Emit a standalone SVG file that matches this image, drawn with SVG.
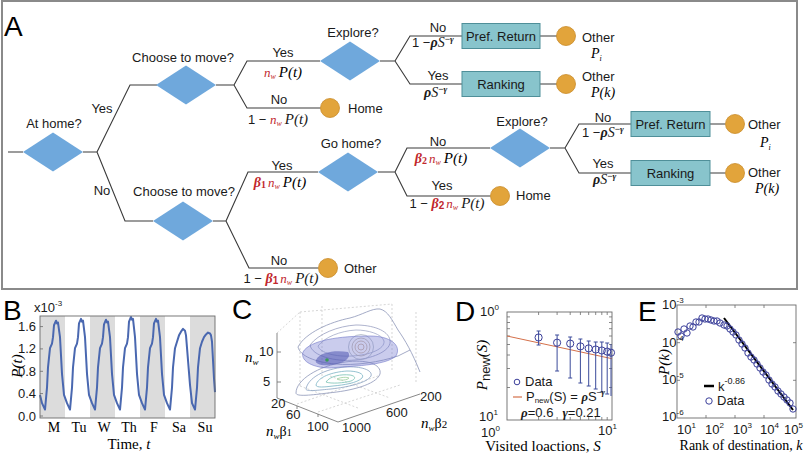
<svg xmlns="http://www.w3.org/2000/svg" width="805" height="460" viewBox="0 0 805 460">
<style>
.t{font-family:"Liberation Sans",Arial,sans-serif;font-size:13px;fill:#1a1a1a}
.it{font-family:"Liberation Serif","Times New Roman",serif;font-style:italic}
.sr{font-family:"Liberation Serif","Times New Roman",serif}
.red{fill:#c1272d}
.b{font-weight:bold}
.pl{font-family:"Liberation Sans",Arial,sans-serif;font-size:28px;fill:#000}
.edge{stroke:#3a3a3a;stroke-width:1.1;fill:none}
.dia{fill:#6fa8dc}
.term{fill:#e2a43b;stroke:#c98c2a;stroke-width:0.8}
.box{fill:#88c4cc;stroke:#4f8f99;stroke-width:1}
.frame{fill:none;stroke:#6a6a6a;stroke-width:0.9}
.tk{stroke:#6a6a6a;stroke-width:0.8;fill:none}
.dg{stroke:#c4c4c4;stroke-width:0.7;stroke-dasharray:2,2;fill:none}
.ct{fill:none;stroke-width:0.8}
.mk{fill:none;stroke:#3b3f9a;stroke-width:1}
</style>
<defs>
<polygon id="dm" points="-30,0 0,-19.5 30,0 0,19.5" class="dia"/>
</defs>
<rect x="2" y="1" width="795" height="288" fill="#fff" stroke="#8a8a8a" stroke-width="2"/>
<text class="pl" x="4" y="36">A</text>

<g id="connectors">
<path class="edge" d="M8,152H23 M83,152H97 M97,152L130,85H157 M97,152L125,221H153 M216,85H234 M234,85L247,61H320 M234,85L247,108H320.5 M380,61H395 M395,61L410,36H462 M395,61L410,84H462 M540,36H557 M540,84H557 M213,221H226 M226,221L248,172H318 M226,221L249,268H318.5 M378,172H395 M395,172L407,148H490 M395,172L407,196H490.5 M550,148H565 M565,148L579,124H631 M565,148L579,173H631 M710,124H725.5 M710,173H725.5"/>
<text class="t" x="102" y="113" text-anchor="middle">Yes</text>
<text class="t" x="102" y="195" text-anchor="middle">No</text>
<text class="t" x="283" y="57" text-anchor="middle">Yes</text>
<text class="it" x="283" y="77" text-anchor="middle" font-size="15"><tspan class="red" font-size="13">n</tspan><tspan class="red" font-size="8" dy="2">w</tspan><tspan dy="-2" dx="3">P(t)</tspan></text>
<text class="t" x="279" y="104" text-anchor="middle">No</text>
<text class="t" x="278" y="124" text-anchor="middle">1 − <tspan class="it red" font-size="13">n</tspan><tspan class="it red" font-size="8" dy="2">w</tspan><tspan class="it" font-size="15" dy="-2" dx="3">P(t)</tspan></text>
<text class="t" x="438" y="32" text-anchor="middle">No</text>
<text class="t" x="412" y="47">1 −<tspan class="it b" font-size="14">ρ</tspan><tspan class="it" font-size="14">S</tspan><tspan font-size="9" dy="-5">−</tspan><tspan class="it b" font-size="9">γ</tspan></text>
<text class="t" x="438" y="80" text-anchor="middle">Yes</text>
<text class="t" x="424" y="97"><tspan class="it b" font-size="14">ρ</tspan><tspan class="it" font-size="14">S</tspan><tspan font-size="9" dy="-5">−</tspan><tspan class="it b" font-size="9">γ</tspan></text>
<text class="t" x="282" y="170" text-anchor="middle">Yes</text>
<text class="it" x="280" y="187" text-anchor="middle" font-size="15"><tspan class="red b" font-size="14">β</tspan><tspan class="red b" font-size="10" dy="1" font-style="normal">1</tspan><tspan class="red" font-size="13" dy="-1" dx="2">n</tspan><tspan class="red" font-size="8" dy="2">w</tspan><tspan dy="-2" dx="3">P(t)</tspan></text>
<text class="t" x="279" y="265" text-anchor="middle">No</text>
<text class="t" x="281" y="283" text-anchor="middle">1 − <tspan class="it red b" font-size="14">β</tspan><tspan class="red b" font-size="10" dy="1">1</tspan><tspan class="it red" font-size="13" dy="-1" dx="2">n</tspan><tspan class="it red" font-size="8" dy="2">w</tspan><tspan class="it" font-size="15" dy="-2" dx="3">P(t)</tspan></text>
<text class="t" x="438" y="146" text-anchor="middle">No</text>
<text class="it" x="441" y="163" text-anchor="middle" font-size="15"><tspan class="red b" font-size="14">β</tspan><tspan class="red b" font-size="10" dy="1" font-style="normal">2</tspan><tspan class="red" font-size="13" dy="-1" dx="2">n</tspan><tspan class="red" font-size="8" dy="2">w</tspan><tspan dy="-2" dx="3">P(t)</tspan></text>
<text class="t" x="442" y="190" text-anchor="middle">Yes</text>
<text class="t" x="447" y="208" text-anchor="middle">1 − <tspan class="it red b" font-size="14">β</tspan><tspan class="red b" font-size="10" dy="1">2</tspan><tspan class="it red" font-size="13" dy="-1" dx="2">n</tspan><tspan class="it red" font-size="8" dy="2">w</tspan><tspan class="it" font-size="15" dy="-2" dx="3">P(t)</tspan></text>
<text class="t" x="603" y="122" text-anchor="middle">No</text>
<text class="t" x="582" y="137">1 −<tspan class="it b" font-size="14">ρ</tspan><tspan class="it" font-size="14">S</tspan><tspan font-size="9" dy="-5">−</tspan><tspan class="it b" font-size="9">γ</tspan></text>
<text class="t" x="603" y="168" text-anchor="middle">Yes</text>
<text class="t" x="593" y="184"><tspan class="it b" font-size="14">ρ</tspan><tspan class="it" font-size="14">S</tspan><tspan font-size="9" dy="-5">−</tspan><tspan class="it b" font-size="9">γ</tspan></text>
</g>

<g id="n-athome"><use href="#dm" x="53" y="152"/><text class="t" x="54" y="128" text-anchor="middle">At home?</text></g>
<g id="n-move1"><use href="#dm" x="186" y="85"/><text class="t" x="183" y="62" text-anchor="middle">Choose to move?</text></g>
<g id="n-explore1"><use href="#dm" x="350" y="61"/><text class="t" x="353" y="37" text-anchor="middle">Explore?</text></g>
<g id="n-home1"><circle class="term" cx="330" cy="108" r="9.5"/><text class="t" x="348" y="113">Home</text></g>
<g id="n-pref1"><rect class="box" x="462" y="23.5" width="78" height="25"/><text class="t" x="501" y="40.5" text-anchor="middle">Pref. Return</text></g>
<g id="n-rank1"><rect class="box" x="462" y="71.5" width="78" height="25"/><text class="t" x="501" y="88.5" text-anchor="middle">Ranking</text></g>
<g id="n-other1"><circle class="term" cx="566" cy="36" r="9.5"/><text class="t" x="582" y="42">Other</text><text class="it" x="591" y="58" font-size="14">P<tspan font-size="8" dy="3">i</tspan></text></g>
<g id="n-other2"><circle class="term" cx="566" cy="84" r="9.5"/><text class="t" x="582" y="81">Other</text><text class="it" x="591" y="97" font-size="14">P(k)</text></g>
<g id="n-move2"><use href="#dm" x="183" y="221"/><text class="t" x="184" y="196" text-anchor="middle">Choose to move?</text></g>
<g id="n-gohome"><use href="#dm" x="348" y="172"/><text class="t" x="351" y="148" text-anchor="middle">Go home?</text></g>
<g id="n-other3"><circle class="term" cx="328" cy="268" r="9.5"/><text class="t" x="344" y="273">Other</text></g>
<g id="n-home2"><circle class="term" cx="500" cy="196" r="9.5"/><text class="t" x="516" y="200">Home</text></g>
<g id="n-explore2"><use href="#dm" x="520" y="148"/><text class="t" x="522" y="126" text-anchor="middle">Explore?</text></g>
<g id="n-pref2"><rect class="box" x="631" y="111.5" width="79" height="25"/><text class="t" x="670.5" y="128.5" text-anchor="middle">Pref. Return</text></g>
<g id="n-rank2"><rect class="box" x="631" y="160.5" width="79" height="25"/><text class="t" x="670.5" y="177.5" text-anchor="middle">Ranking</text></g>
<g id="n-other4"><circle class="term" cx="735" cy="124" r="9.5"/><text class="t" x="748" y="129">Other</text><text class="it" x="760" y="147" font-size="14">P<tspan font-size="8" dy="3">i</tspan></text></g>
<g id="n-other5"><circle class="term" cx="735" cy="173" r="9.5"/><text class="t" x="748" y="177">Other</text><text class="it" x="755" y="193" font-size="14">P(k)</text></g>

<!-- Panel B -->
<g id="panelB">
<text class="pl" x="3" y="320">B</text>
<rect x="40" y="316" width="25" height="102" fill="#dcdcdc"/>
<rect x="90" y="316" width="25" height="102" fill="#dcdcdc"/>
<rect x="140" y="316" width="25" height="102" fill="#dcdcdc"/>
<rect x="190" y="316" width="25" height="102" fill="#dcdcdc"/>
<g transform="matrix(1 0 0 0.9164 0 25.6)">
<polyline fill="none" stroke="#4a68b0" stroke-width="2" stroke-linejoin="round" vector-effect="non-scaling-stroke" points="40,403 42,412 45,419 47,395 48,373 50,352 52,347 53,340 54,327 56,322 57,325 58,324 60,340 62,380 64,403 67,412 70,419 72,395 73,373 75,352 77,347 78,340 79,325 81,320 82,323 83,322 85,340 87,380 89,403 92,412 95,419 97,395 98,373 100,352 102,347 103,340 104,326 106,321 107,324 108,323 110,340 112,380 114,403 117,412 120,419 122,395 123,373 125,352 127,347 128,340 129,323 131,318 132,321 133,320 135,340 137,380 139,403 142,412 145,419 147,395 148,373 150,352 152,347 153,340 154,325 156,320 157,323 158,322 160,340 162,380 164,403 167,412 170,419 172,395 173,373 175,352 177,345 179,338 181,334 183,331 185,333 186,338 188,365 190,392 192,412 195,419 197,395 198,373 200,352 202,345 204,340 206,337 208,335 210,336 211,338 212,345 213,365 214,385 215,400"/>
</g>
<rect class="frame" x="40" y="316" width="175" height="102"/>
<path class="tk" d="M40,326.6h3M40,348.9h3M40,371.3h3M40,393.6h3M40,416h3"/>
<text class="t" x="36" y="331" text-anchor="end">1.6</text>
<text class="t" x="36" y="353.4" text-anchor="end">1.2</text>
<text class="t" x="36" y="375.8" text-anchor="end">0.8</text>
<text class="t" x="36" y="398.1" text-anchor="end">0.4</text>
<text class="t" x="36" y="420.5" text-anchor="end">0.0</text>
<text class="t" x="34" y="312" font-size="12">x10<tspan font-size="8" dy="-6">-3</tspan></text>
<text class="it" font-size="15" transform="translate(22,366) rotate(-90)" text-anchor="middle">P(t)</text>
<g class="sr" font-size="14" text-anchor="middle">
<text x="54" y="432">M</text><text x="79" y="432">Tu</text><text x="104" y="432">W</text><text x="129" y="432">Th</text><text x="154" y="432">F</text><text x="179" y="432">Sa</text><text x="205" y="432">Su</text>
</g>
<text class="sr" font-size="15" x="129" y="449" text-anchor="middle">Time, <tspan class="it">t</tspan></text>
</g>

<!-- Panel C -->
<g id="panelC">
<text class="pl" x="232" y="319">C</text>
<path class="dg" d="M300,312V387 M322,306V379 M392,304V371 M416,312V384 M297,404L378,376 M318,412L400,385 M300,386L358,408 M330,376L390,398 M277,333L300,312 M300,312L392,304"/>
<path class="tk" d="M277,333V398L338,422L420,394 M277,352h4 M277,382h4 M297,406l0,3 M318,414l0,3"/>
<path class="ct" stroke="#8d95b8" d="M296,393C296,380 318,366 345,362C366,359 382,364 380,374C376,385 350,391 328,393C312,395 296,397 296,393Z"/>
<path class="ct" stroke="#8aa2c2" d="M306,389C308,378 324,369 345,367C361,366 373,370 371,376C367,383 348,387 331,389C319,390 306,392 306,389Z"/>
<path class="ct" stroke="#79b2c4" d="M316,385C318,377 332,372 347,371C358,371 365,374 362,378C357,383 344,385 333,386C325,387 316,388 316,385Z"/>
<path class="ct" stroke="#78c2b4" d="M326,382C330,376 341,374 350,375C356,376 356,379 351,381C344,383 331,384 326,382Z"/>
<path class="ct" stroke="#9ccf9c" d="M337,379C341,377 347,377 349,378C348,380 340,381 337,379Z"/>
<path class="ct" stroke="#8d95b8" d="M298,347C305,333 330,322 350,318C362,315 372,308 380,309C388,311 392,320 398,330C405,340 412,352 420,372"/>
<path class="ct" stroke="#8d95b8" d="M298,347C300,356 315,362 335,364C355,366 380,362 398,356L410,350"/>
<path class="ct" stroke="#99a0c0" d="M310,345C318,334 338,326 356,325C372,325 388,330 390,340C392,350 375,358 355,360C335,362 312,356 310,345Z"/>
<path class="ct" stroke="#a3abc8" d="M318,346C325,337 340,331 356,330C368,330 382,334 384,341C385,349 370,355 352,356C336,357 320,353 318,346Z"/>
<circle class="ct" stroke="#c9ab93" cx="361" cy="347" r="3"/>
<circle class="ct" stroke="#c6ae98" cx="361" cy="347" r="6"/>
<circle class="ct" stroke="#bdb4a6" cx="361" cy="347" r="9"/>
<circle class="ct" stroke="#adb6c0" cx="361" cy="347" r="12.5"/>
<path d="M303,352C310,340 340,336 370,336C390,336 402,345 396,356C385,366 350,366 330,368C315,368 300,362 303,352Z" fill="#7378cf" fill-opacity="0.38" stroke="#7077c8" stroke-width="0.6"/>
<path d="M316,360C320,352 335,350 348,352C352,357 345,364 330,365C322,366 314,364 316,360Z" fill="#4f55b0" fill-opacity="0.55"/>
<circle cx="327" cy="360" r="1.8" fill="#3a9a5a"/>
<text class="t" x="259" y="356">10</text>
<text class="t" x="263" y="386">5</text>
<text class="it" x="245" y="362" font-size="15">n<tspan font-size="9" dy="3">w</tspan></text>
<text class="t" x="271" y="408">20</text>
<text class="t" x="286" y="419">60</text>
<text class="t" x="307" y="431">100</text>
<text class="t" x="342" y="432">1000</text>
<text class="t" x="386" y="417">600</text>
<text class="t" x="420" y="401">200</text>
<text class="it" x="266" y="436" font-size="15">n<tspan font-size="9" dy="3">w</tspan><tspan class="sr" font-style="normal" font-size="14" dy="-3">β</tspan><tspan class="sr" font-style="normal" font-size="10">1</tspan></text>
<text class="it" x="421" y="428" font-size="15">n<tspan font-size="9" dy="3">w</tspan><tspan class="sr" font-style="normal" font-size="14" dy="-3">β</tspan><tspan class="sr" font-style="normal" font-size="11">2</tspan></text>
</g>

<!-- Panel D -->
<g id="panelD">
<text class="pl" x="455" y="321">D</text>
<rect class="frame" x="507" y="312" width="105" height="108"/>
<path class="tk" d="M538.6,420v-3M557.1,420v-3M570.2,420v-3M580.4,420v-3M588.7,420v-3M595.7,420v-3M601.8,420v-3M607.2,420v-3 M538.6,312v3M557.1,312v3M570.2,312v3M580.4,312v3M588.7,312v3M595.7,312v3M601.8,312v3M607.2,312v3 M507,316.9h3M507,322.5h3M507,328.7h3M507,336h3M507,344.5h3M507,355h3M507,368.5h3M507,387.5h3 M612,316.9h-3M612,322.5h-3M612,328.7h-3M612,336h-3M612,344.5h-3M612,355h-3M612,368.5h-3M612,387.5h-3"/>
<line x1="507" y1="336" x2="612" y2="358.7" stroke="#d4704a" stroke-width="1"/>
<path stroke="#3b4a9a" stroke-width="1" fill="none" d="M538.6,331V345M536.6,331h4M536.6,345h4 M557.1,335V371M555.1,335h4M555.1,371h4 M570.2,337V378M568.2,337h4M568.2,378h4 M580.4,339V383M578.4,339h4M578.4,383h4 M588.7,341V386M586.7,341h4M586.7,386h4 M595.7,342V389M593.7,342h4M593.7,389h4 M601.8,342V392M599.8,342h4M599.8,392h4 M607.2,343V394M605.2,343h4M605.2,394h4 M611,344V396"/>
<g class="mk">
<circle cx="538.6" cy="337.5" r="3.6"/><circle cx="557.1" cy="342.7" r="3.6"/><circle cx="570.2" cy="343.6" r="3.6"/><circle cx="580.4" cy="346.4" r="3.6"/><circle cx="588.7" cy="348.4" r="3.6"/><circle cx="595.7" cy="349.5" r="3.6"/><circle cx="601.8" cy="350.5" r="3.6"/><circle cx="607.2" cy="351.6" r="3.6"/><circle cx="611" cy="352.7" r="3.6"/>
<circle cx="517" cy="382" r="2.8"/>
</g>
<text class="t" x="525" y="386" font-size="12">Data</text>
<line x1="513" y1="397" x2="522" y2="397" stroke="#d4704a" stroke-width="1.2"/>
<text class="t" x="526" y="401" font-size="11.5">P<tspan font-size="8" dy="2">new</tspan><tspan dy="-2">(S) = </tspan><tspan class="b it" font-size="12.5">ρ</tspan>S<tspan font-size="8" dy="-6">−</tspan><tspan class="b it" font-size="9">γ</tspan></text>
<text class="t" x="521" y="417" font-size="12"><tspan class="b it">ρ</tspan>=0.6<tspan class="b it" dx="9">γ</tspan>=0.21</text>
<text class="t" x="480" y="316">10<tspan font-size="8" dy="-6">0</tspan></text>
<text class="t" x="479" y="421">10<tspan font-size="8" dy="-6">1</tspan></text>
<text class="t" x="481" y="437">10<tspan font-size="8" dy="-6">0</tspan></text>
<text class="t" x="598" y="435">10<tspan font-size="8" dy="-6">1</tspan></text>
<text class="it" font-size="15" transform="translate(487,365) rotate(-90)" text-anchor="middle">P<tspan class="t" font-style="normal" font-size="10" dy="3">new</tspan><tspan dy="-3">(S)</tspan></text>
<text class="sr" font-size="15" x="543" y="451" text-anchor="middle">Visited loactions, <tspan class="it">S</tspan></text>
</g>

<!-- Panel E -->
<g id="panelE">
<text class="pl" x="638" y="321">E</text>
<rect class="frame" x="677" y="305" width="119" height="113"/>
<path class="tk" d="M706,418v-3M735,418v-3M764,418v-3M706,305v3M735,305v3M764,305v3 M677,342.7h3M677,380.3h3M796,342.7h-3M796,380.3h-3"/>
<line x1="724" y1="318" x2="793" y2="410" stroke="#000" stroke-width="2"/>
<g class="mk" stroke="#4a4aa6">
<circle cx="678" cy="332" r="3.2"/><circle cx="681" cy="336" r="3.2"/><circle cx="684" cy="329" r="3.2"/><circle cx="687" cy="333" r="3.2"/><circle cx="690" cy="326" r="3.2"/><circle cx="693" cy="327" r="3.2"/><circle cx="696" cy="322" r="3.2"/><circle cx="699" cy="322" r="3.2"/><circle cx="702" cy="318" r="3.2"/><circle cx="705" cy="319" r="3.2"/><circle cx="708" cy="319" r="3.2"/><circle cx="711" cy="320" r="3.2"/><circle cx="714" cy="321" r="3.2"/><circle cx="717" cy="321" r="3.2"/><circle cx="720" cy="323" r="3.2"/><circle cx="724" cy="325" r="3.2"/><circle cx="727" cy="326" r="3.2"/><circle cx="730" cy="329" r="3.2"/><circle cx="733" cy="332" r="3.2"/><circle cx="736" cy="335" r="3.2"/><circle cx="739" cy="340" r="3.2"/><circle cx="742" cy="344" r="3.2"/><circle cx="745" cy="348" r="3.2"/><circle cx="748" cy="353" r="3.2"/><circle cx="751" cy="357" r="3.2"/><circle cx="754" cy="360" r="3.2"/><circle cx="757" cy="364" r="3.2"/><circle cx="760" cy="368" r="3.2"/><circle cx="763" cy="372" r="3.2"/><circle cx="766" cy="375" r="3.2"/><circle cx="769" cy="380" r="3.2"/><circle cx="772" cy="384" r="3.2"/><circle cx="775" cy="387" r="3.2"/><circle cx="778" cy="391" r="3.2"/><circle cx="781" cy="394" r="3.2"/><circle cx="784" cy="397" r="3.2"/><circle cx="787" cy="400" r="3.2"/><circle cx="790" cy="403" r="3.2"/><circle cx="793" cy="409" r="3.2"/>
<circle cx="709" cy="401" r="3.2"/>
</g>
<line x1="704" y1="386" x2="714" y2="386" stroke="#000" stroke-width="2.5"/>
<text class="t" x="718" y="391">k<tspan font-size="9" dy="-7">-0.86</tspan></text>
<text class="t" x="717" y="405" font-size="12">Data</text>
<text class="t" x="662" y="309">10<tspan font-size="8" dy="-6">-3</tspan></text>
<text class="t" x="662" y="347">10<tspan font-size="8" dy="-6">-4</tspan></text>
<text class="t" x="662" y="384">10<tspan font-size="8" dy="-6">-5</tspan></text>
<text class="t" x="662" y="421">10<tspan font-size="8" dy="-6">-6</tspan></text>
<text class="t" x="677" y="434">10<tspan font-size="8" dy="-6">1</tspan></text>
<text class="t" x="705" y="434">10<tspan font-size="8" dy="-6">2</tspan></text>
<text class="t" x="733" y="434">10<tspan font-size="8" dy="-6">3</tspan></text>
<text class="t" x="760" y="434">10<tspan font-size="8" dy="-6">4</tspan></text>
<text class="t" x="784" y="434">10<tspan font-size="8" dy="-6">5</tspan></text>
<text class="it" font-size="15" transform="translate(669,362) rotate(-90)" text-anchor="middle">P(k)</text>
<text class="sr" font-size="14" x="741" y="450" text-anchor="middle">Rank of destination, <tspan class="it">k</tspan></text>
</g>
</svg>
